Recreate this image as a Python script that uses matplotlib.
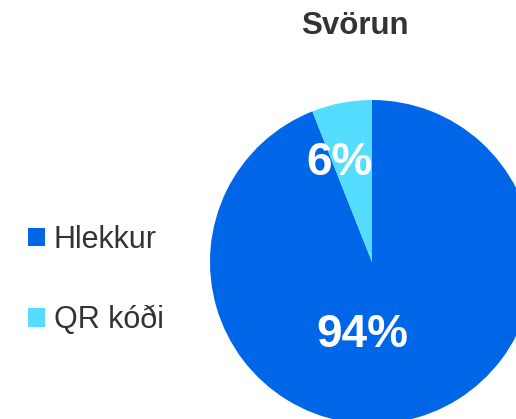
import matplotlib
matplotlib.use("Agg")
import matplotlib.pyplot as plt
from matplotlib.patches import Patch

plt.rcParams['font.family'] = ['Liberation Sans', 'DejaVu Sans']

# data
labels = ['Hlekkur', 'QR kóði']
shares = [94, 6]
colors = ['#0066E8', '#55DDFF']
title = 'Svörun'

W, H = 516, 419
fig = plt.figure(figsize=(W / 100, H / 100), dpi=100)
ax = fig.add_axes([0, 0, 1, 1])

# pie centre / radius in pixels
cx, cy, r = 372, 262, 162

ax.pie(shares, colors=colors, startangle=90, counterclock=False,
       radius=1, center=(0, 0), wedgeprops=dict(linewidth=0))
ax.set_xlim(-cx / r, (W - cx) / r)
ax.set_ylim(-(H - cy) / r, cy / r)
ax.set_aspect('auto')
ax.axis('off')

# percentage labels
ax.text(-32 / r, 99 / r, f"{shares[1]}%", color='white', fontsize=33,
        fontweight='bold', ha='center', va='center')
ax.text(-10 / r, -73 / r, f"{shares[0]}%", color='white', fontsize=33,
        fontweight='bold', ha='center', va='center')

fig.text(355 / W, 1 - 26 / H, title, fontsize=22.5, fontweight='bold',
         color='#333333', ha='center', va='center')

handles = [Patch(facecolor=c, edgecolor='none') for c in colors]
fig.legend(handles, labels, loc='center left',
           bbox_to_anchor=(28 / W, 1 - 280 / H), frameon=False,
           fontsize=22, handlelength=0.55, handleheight=0.55,
           handletextpad=0.3, labelspacing=1.66, borderpad=0,
           borderaxespad=0, labelcolor='#333333')

fig.savefig('out.png', dpi=100)
